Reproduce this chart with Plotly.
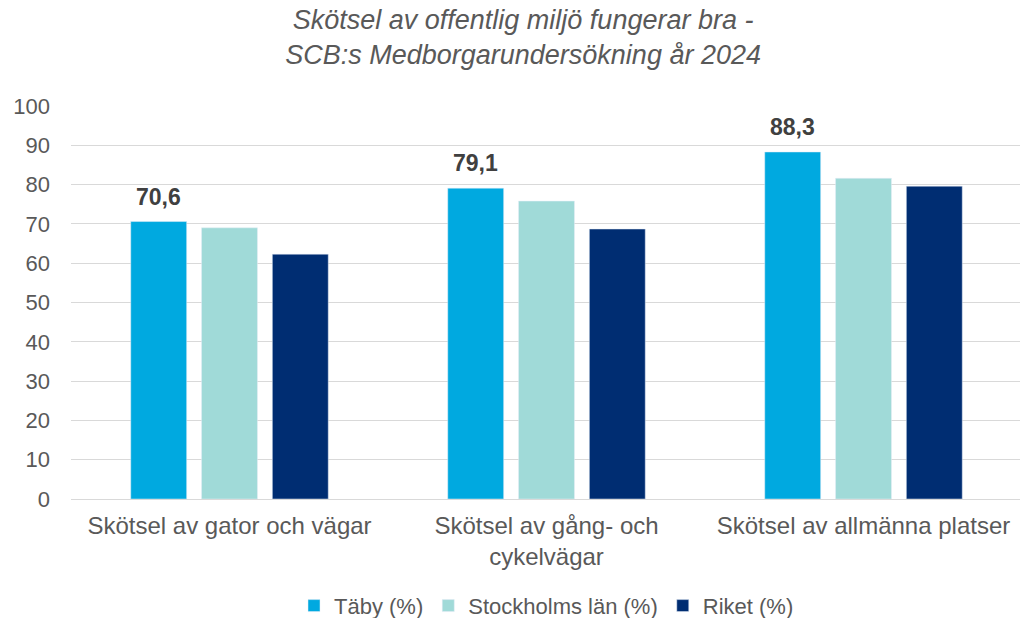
import plotly.graph_objects as go

# data
categories = ["Skötsel av gator och vägar", "Skötsel av gång- och<br>cykelvägar", "Skötsel av allmänna platser"]
taby = [70.6, 79.1, 88.3]
stockholm = [69.0, 75.8, 81.6]
riket = [62.3, 68.7, 79.6]

fnt = "Arial, Liberation Sans, sans-serif"
bargap = 0.33

fig = go.Figure()
fig.add_trace(go.Bar(name="Täby (%)", x=categories, y=taby, marker_color="#00A9E0"))
fig.add_trace(go.Bar(name="Stockholms län (%)", x=categories, y=stockholm, marker_color="#A0DAD8"))
fig.add_trace(go.Bar(name="Riket (%)", x=categories, y=riket, marker_color="#002D72"))

# value labels above the Täby bars (first bar of each group)
offset = -(1 - bargap) / 3
for i, v in enumerate(taby):
    fig.add_annotation(x=i + offset, y=v, xref="x", yref="y", showarrow=False,
                       text="<b>" + f"{v:.1f}".replace(".", ",") + "</b>",
                       yanchor="bottom", yshift=10,
                       font=dict(family=fnt, size=23, color="#404040"))

# the page has an 8px body margin, so the figure is sized to fit inside the window
fig.update_layout(
    width=1020, height=610,
    paper_bgcolor="white", plot_bgcolor="white",
    font=dict(family=fnt, size=23, color="#595959"),
    title=dict(text="<i>Skötsel av offentlig miljö fungerar bra -<br>SCB:s Medborgarundersökning år 2024</i>",
               x=0.505, xanchor="center", yref="container", y=0.965, yanchor="middle",
               font=dict(family=fnt, size=27, color="#595959")),
    margin=dict(l=63, r=6, t=98, b=119, autoexpand=False),
    barmode="group", bargap=bargap, bargroupgap=0.21,
    legend=dict(orientation="h", x=0.5, xanchor="center", yref="container", y=0.02,
                yanchor="middle", font=dict(family=fnt, size=22, color="#595959"),
                itemwidth=30, traceorder="normal"),
    xaxis=dict(showline=True, linecolor="#D9D9D9", ticks="", tickfont=dict(size=24),
               ticklabelstandoff=5, automargin=False),
    yaxis=dict(range=[0, 100], dtick=10, showgrid=True, gridcolor="#D9D9D9",
               zeroline=False, ticks="", tickfont=dict(size=22), ticklabelstandoff=20,
               automargin=False),
)

fig.write_html("out.html")
